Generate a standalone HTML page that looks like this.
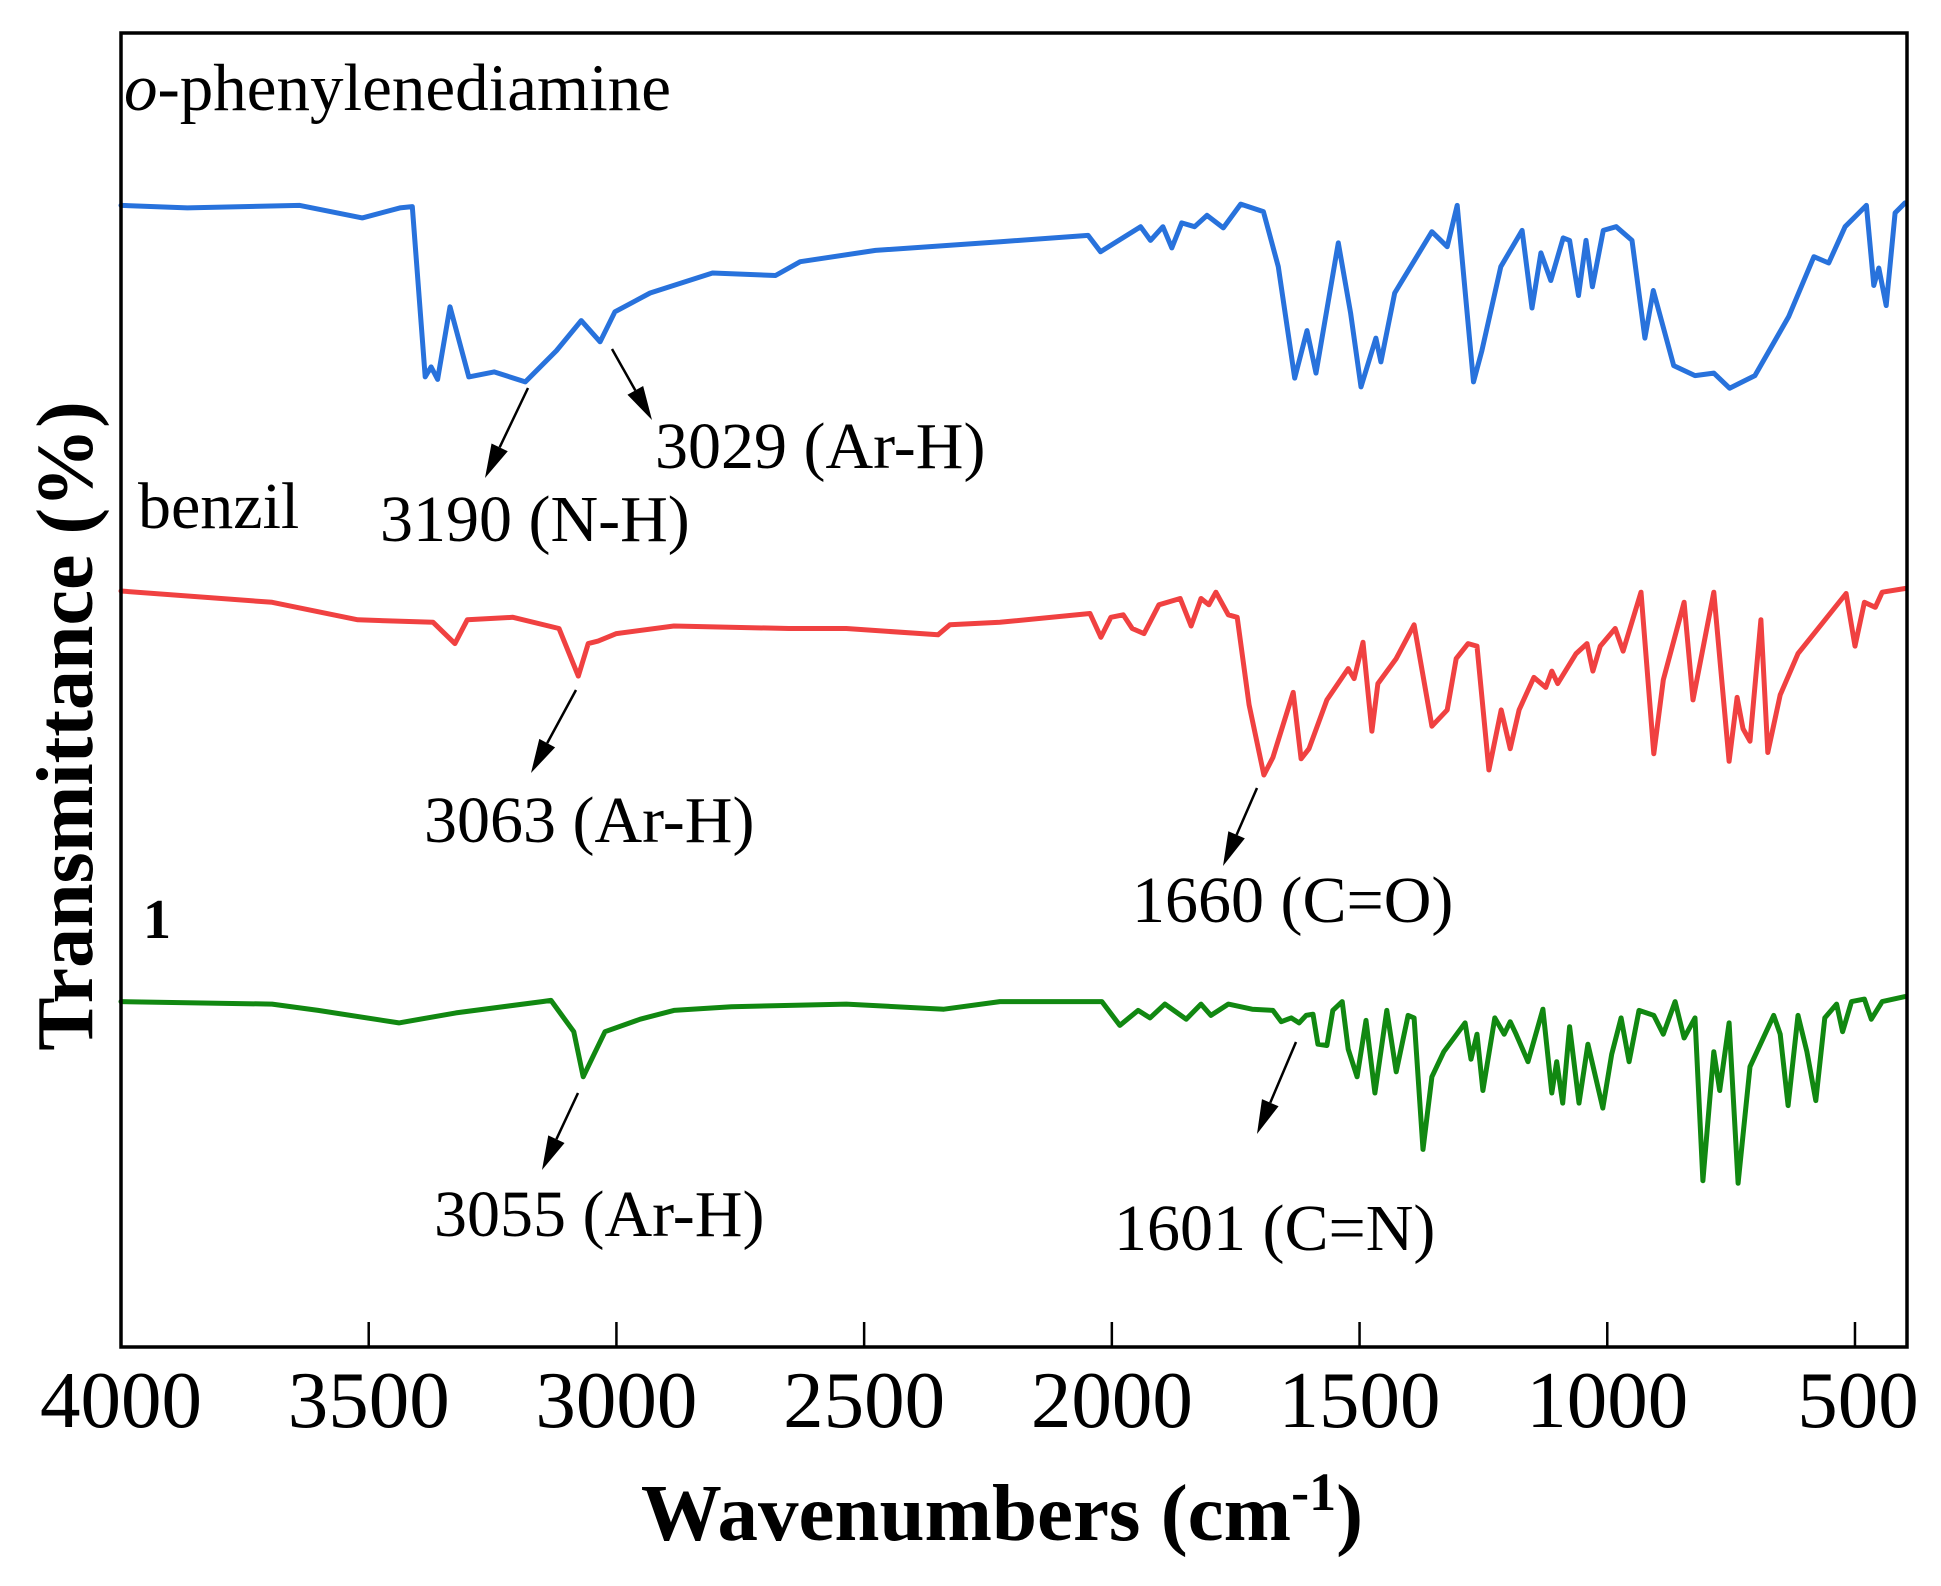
<!DOCTYPE html>
<html><head><meta charset="utf-8">
<style>
html,body{margin:0;padding:0;background:#fff;}
svg{display:block;}
text{font-family:"Liberation Serif","Times New Roman",serif;fill:#000;}
</style></head>
<body>
<svg id="chart" width="1941" height="1586" viewBox="0 0 1941 1586" xmlns="http://www.w3.org/2000/svg">
  <rect x="0" y="0" width="1941" height="1586" fill="#fff"/>
  <g id="ticks"></g>
  <g id="series"></g>
  <rect x="121" y="33" width="1786" height="1314" fill="none" stroke="#000" stroke-width="3.5"/>
  <g id="ticklabels" font-size="81" text-anchor="middle"></g>
  <text x="1002" y="1540" font-size="81" font-weight="bold" text-anchor="middle">Wavenumbers (cm<tspan dy="-30" font-size="54">-1</tspan><tspan dy="30">)</tspan></text>
  <text transform="translate(92,726) rotate(-90)" font-size="80" font-weight="bold" text-anchor="middle">Transmittance (%)</text>

  <text x="124" y="110" font-size="67"><tspan font-style="italic">o</tspan>-phenylenediamine</text>
  <text x="138" y="528" font-size="66">benzil</text>
  <text x="143" y="938" font-size="56" font-weight="bold">1</text>

  <text x="380" y="541" font-size="66">3190 (N-H)</text>
  <text x="655" y="468" font-size="66">3029 (Ar-H)</text>
  <text x="424" y="842" font-size="66">3063 (Ar-H)</text>
  <text x="1132" y="922" font-size="66">1660 (C=O)</text>
  <text x="434" y="1236" font-size="66">3055 (Ar-H)</text>
  <text x="1114" y="1250" font-size="66">1601 (C=N)</text>
  <g id="arrows"></g>
</svg>
<script>
// ---- data ----
const xTicks = [4000, 3500, 3000, 2500, 2000, 1500, 1000, 500];
const blueWn = [4000,3866,3639,3513,3437,3412,3386,3374,3361,3336,3298,3247,3184,3121,3071,3033,3003,2932,2806,2679,2629,2477,2225,2048,2023,1942,1922,1897,1879,1859,1833,1808,1775,1740,1694,1664,1631,1606,1588,1543,1518,1497,1467,1457,1429,1354,1323,1303,1270,1253,1215,1172,1152,1134,1114,1089,1076,1058,1043,1030,1008,982,950,924,907,866,823,785,753,702,634,583,553,520,477,462,452,437,419,399];
const blueT = [91.4,91.2,91.4,90.4,91.2,91.3,77.7,78.5,77.5,83.3,77.7,78.1,77.3,79.8,82.2,80.5,82.9,84.4,86.0,85.8,86.9,87.8,88.5,89.0,87.7,89.7,88.6,89.7,88.0,90.0,89.7,90.6,89.6,91.5,90.9,86.5,77.6,81.4,78.0,88.4,82.8,76.9,80.8,78.9,84.4,89.3,88.1,91.4,77.3,79.8,86.5,89.4,83.2,87.6,85.4,88.8,88.6,84.2,88.6,84.9,89.4,89.7,88.6,80.8,84.6,78.6,77.8,78.0,76.8,77.8,82.5,87.3,86.8,89.7,91.4,85.0,86.4,83.4,90.8,91.6];
const redWn = [4000,3695,3522,3370,3326,3301,3209,3116,3077,3057,3037,3000,2884,2652,2536,2351,2327,2226,2044,2022,2002,1977,1959,1935,1905,1862,1840,1820,1804,1790,1765,1747,1723,1693,1675,1634,1618,1602,1566,1523,1511,1493,1475,1463,1426,1390,1354,1323,1305,1281,1263,1239,1214,1196,1178,1148,1124,1112,1100,1063,1041,1029,1014,984,968,932,906,887,845,827,785,754,738,726,712,690,676,651,615,518,500,481,459,445,399];
const redT = [60.6,59.7,58.3,58.1,56.4,58.3,58.5,57.6,53.8,56.4,56.6,57.2,57.8,57.6,57.6,57.1,57.9,58.1,58.8,56.9,58.5,58.7,57.6,57.2,59.5,60.0,57.8,60.0,59.5,60.5,58.7,58.5,51.5,45.9,47.3,52.5,47.2,48.0,51.9,54.4,53.6,56.5,49.4,53.2,55.2,57.9,49.8,51.1,55.2,56.4,56.2,46.3,51.1,48.0,51.1,53.7,52.9,54.2,53.2,55.6,56.4,54.2,56.2,57.6,55.8,60.5,47.6,53.5,59.7,51.9,60.5,47.0,52.1,49.6,48.6,58.3,47.7,52.3,55.6,60.4,56.2,59.7,59.3,60.5,60.8];
const greenWn = [4000,3695,3602,3439,3324,3150,3132,3110,3086,3067,3045,3023,2952,2884,2768,2536,2339,2226,2020,1984,1947,1923,1893,1850,1820,1800,1765,1717,1675,1658,1638,1622,1608,1594,1584,1566,1554,1535,1523,1505,1487,1469,1445,1426,1402,1390,1372,1354,1330,1287,1275,1263,1251,1227,1208,1196,1184,1160,1130,1112,1102,1090,1076,1057,1039,1009,991,972,956,936,906,887,863,845,823,807,785,773,754,736,712,664,651,635,615,597,579,561,537,525,507,481,467,445,399];
const greenT = [27.8,27.6,27.1,26.1,26.9,27.8,27.9,26.7,25.4,21.8,23.6,25.4,26.4,27.1,27.4,27.6,27.2,27.8,27.8,25.9,27.1,26.5,27.6,26.4,27.6,26.7,27.6,27.2,27.1,26.2,26.5,26.1,26.7,26.8,24.4,24.3,27.1,27.8,24.0,21.8,26.3,20.5,27.1,22.2,26.7,26.5,16.0,21.8,23.8,26.1,23.2,25.2,20.7,26.5,25.2,26.2,25.2,23.0,27.2,20.5,23.0,19.7,25.8,19.7,24.4,19.3,23.6,26.5,23.0,27.1,26.7,25.2,27.8,24.9,26.5,13.5,23.8,20.7,26.1,13.3,22.6,26.7,25.2,19.5,26.7,23.8,19.9,26.5,27.6,25.4,27.8,28.0,26.4,27.8,28.2];

// ---- axes ----
const X0 = 121, X1 = 1907, WN_MAX = 4000, WN_MIN = 395;
function xScale(wn){ return X0 + (WN_MAX - wn) * (X1 - X0) / (WN_MAX - WN_MIN); }
function yScale(t){ return 1349.7 - 12.52 * t; }

const NS = "http://www.w3.org/2000/svg";
const ticksG = document.getElementById('ticks');
const labelsG = document.getElementById('ticklabels');
xTicks.forEach(function(v){
  const x = xScale(v);
  const ln = document.createElementNS(NS,'line');
  ln.setAttribute('x1', x); ln.setAttribute('x2', x);
  ln.setAttribute('y1', 1347); ln.setAttribute('y2', 1322);
  ln.setAttribute('stroke', '#000'); ln.setAttribute('stroke-width', '2.5');
  
  
  ticksG.appendChild(ln);
  const tx = document.createElementNS(NS,'text');
  tx.setAttribute('x', v === 500 ? x + 3 : x);
  tx.setAttribute('y', 1427);
  tx.textContent = v;
  
  
  labelsG.appendChild(tx);
});

const seriesG = document.getElementById('series');
function drawSeries(wns, ts, color, name){
  let d = '';
  for (let i = 0; i < wns.length; i++){
    d += (i ? 'L' : 'M') + xScale(wns[i]).toFixed(1) + ',' + yScale(ts[i]).toFixed(1);
  }
  const p = document.createElementNS(NS,'path');
  p.setAttribute('d', d);
  p.setAttribute('fill', 'none');
  p.setAttribute('stroke', color);
  p.setAttribute('stroke-width', '5');
  p.setAttribute('stroke-linejoin', 'round');
  p.setAttribute('stroke-linecap', 'round');
  
  
  seriesG.appendChild(p);
}
drawSeries(blueWn, blueT, '#2872dc', 'spectrum-o-phenylenediamine');
drawSeries(redWn, redT, '#f04141', 'spectrum-benzil');
drawSeries(greenWn, greenT, '#118811', 'spectrum-compound-1');

// ---- annotation arrows ----
const arrowsG = document.getElementById('arrows');
function arrow(x1,y1,x2,y2,name){
  const dx = x2-x1, dy = y2-y1, L = Math.hypot(dx,dy), ux = dx/L, uy = dy/L;
  const hl = 34, hw = 9;
  const bx = x2 - ux*hl, by = y2 - uy*hl;
  const ln = document.createElementNS(NS,'line');
  ln.setAttribute('x1', x1); ln.setAttribute('y1', y1);
  ln.setAttribute('x2', bx); ln.setAttribute('y2', by);
  ln.setAttribute('stroke', '#000'); ln.setAttribute('stroke-width', '2.5');
  
  
  arrowsG.appendChild(ln);
  const pg = document.createElementNS(NS,'polygon');
  pg.setAttribute('points', x2+','+y2+' '+(bx - uy*hw)+','+(by + ux*hw)+' '+(bx + uy*hw)+','+(by - ux*hw));
  pg.setAttribute('fill', '#000');
  
  
  arrowsG.appendChild(pg);
}
arrow(528,388,485,478,'arrow-3190');
arrow(612,349,652,420,'arrow-3029');
arrow(576,690,531,773,'arrow-3063');
arrow(1257,788,1223,866,'arrow-1660');
arrow(578,1093,542,1170,'arrow-3055');
arrow(1296,1042,1257,1134,'arrow-1601');
</script>
</body></html>
